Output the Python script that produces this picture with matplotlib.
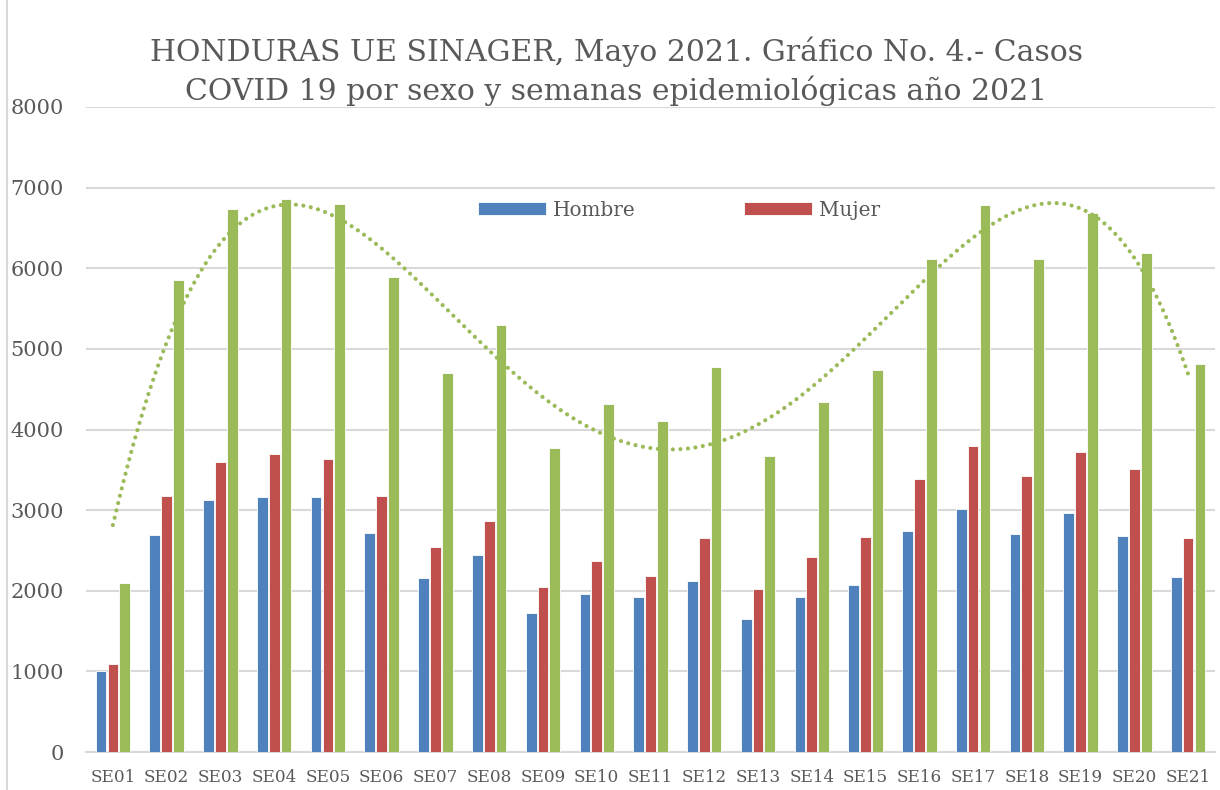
import numpy as np
import matplotlib
matplotlib.use("Agg")
import matplotlib.pyplot as plt
from matplotlib.lines import Line2D

semanas = ["SE%02d" % i for i in range(1, 22)]
hombre = [1000, 2690, 3130, 3160, 3165, 2720, 2160, 2440, 1720, 1960, 1920,
          2120, 1650, 1920, 2070, 2740, 3010, 2700, 2960, 2680, 2170]
mujer = [1090, 3170, 3600, 3700, 3640, 3170, 2540, 2860, 2050, 2370, 2180,
         2660, 2020, 2420, 2670, 3390, 3790, 3420, 3720, 3510, 2650]
total = [2090, 5860, 6730, 6860, 6800, 5890, 4700, 5300, 3770, 4320, 4100,
         4780, 3670, 4340, 4740, 6120, 6790, 6120, 6680, 6190, 4810]

AZUL = "#4F81BD"
ROJO = "#C0504D"
VERDE = "#9BBB59"
GRIS = "#595959"
REJILLA = "#D9D9D9"

plt.rcParams['font.family'] = ['DejaVu Serif']

fig = plt.figure(figsize=(12.2, 7.9), dpi=100)
ax = fig.add_axes([86 / 1220, 1 - 752 / 790, (1215 - 86) / 1220, (752 - 107) / 790])

x = np.arange(len(semanas))
w = 0.2
ax.bar(x - 0.22, hombre, w, color=AZUL, edgecolor="white", linewidth=0.6, label="Hombre", zorder=3)
ax.bar(x, mujer, w, color=ROJO, edgecolor="white", linewidth=0.6, label="Mujer", zorder=3)
ax.bar(x + 0.22, total, w, color=VERDE, edgecolor="white", linewidth=0.6, zorder=3)

# linea de tendencia polinomica de orden 4 (como en Excel)
coef = np.polyfit(x + 1, total, 4)
xs = np.linspace(1, len(semanas), 300)
ax.plot(xs - 1, np.polyval(coef, xs), color=VERDE, lw=3,
        linestyle=(0, (0.01, 1.8)), dash_capstyle="round", zorder=4)

ax.set_xlim(-0.5, len(semanas) - 0.5)
ax.set_ylim(0, 8000)
ax.set_yticks(range(0, 8001, 1000))
ax.set_xticks(x)
ax.set_xticklabels(semanas, fontsize=12.2, color=GRIS)
ax.tick_params(axis="y", length=0, pad=16, labelsize=15, labelcolor=GRIS)
ax.tick_params(axis="x", length=0, pad=12)
ax.grid(axis="y", color=REJILLA, lw=1.5, zorder=0)
for s in ["top", "right", "left"]:
    ax.spines[s].set_visible(False)
ax.spines["bottom"].set_color(REJILLA)
ax.spines["bottom"].set_linewidth(1.5)

fig.legend(loc="center", bbox_to_anchor=(679 / 1220, 1 - 210 / 790), ncol=2,
           frameon=False, fontsize=14.4, handlelength=3.4, handleheight=0.6,
           handletextpad=0.35, columnspacing=5.4, labelcolor=GRIS)

fig.text(0.505, 1 - 71 / 790,
         "HONDURAS UE SINAGER, Mayo 2021. Gráfico No. 4.- Casos\nCOVID 19 por sexo y semanas epidemiológicas año 2021",
         ha="center", va="center", fontsize=21.5, color=GRIS, linespacing=1.35)

fig.add_artist(Line2D([7 / 1220, 7 / 1220], [0, 1], color=REJILLA, lw=1.5))

fig.savefig("out.png", dpi=100)
